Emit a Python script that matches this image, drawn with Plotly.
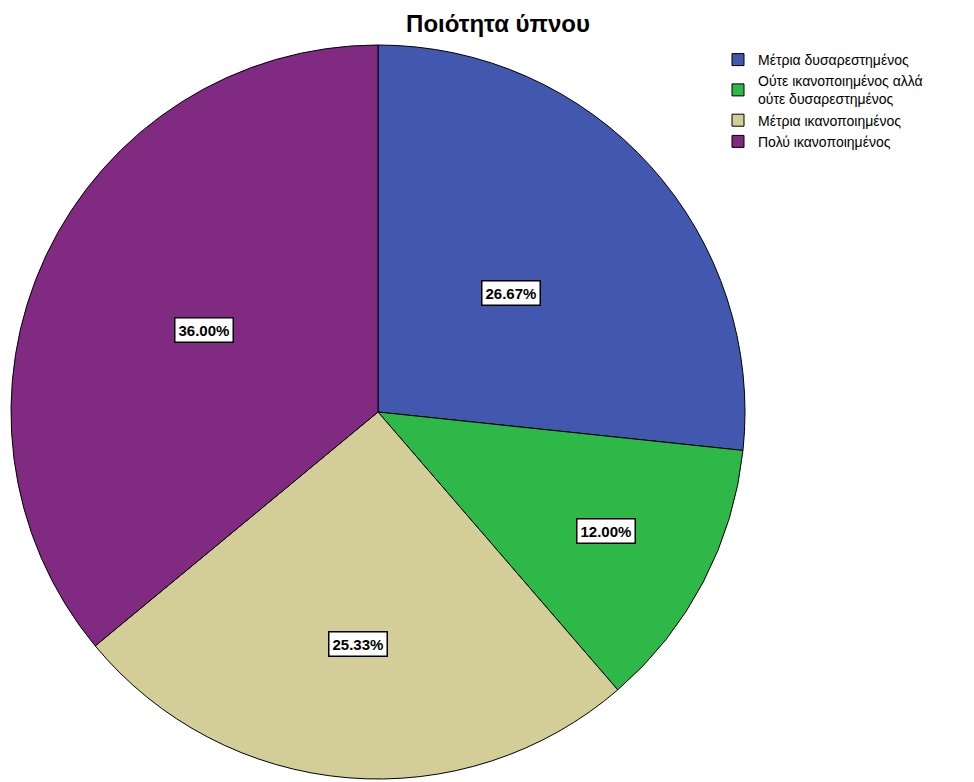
import math
import plotly.graph_objects as go

# Sleep quality survey: share of respondents per answer
categories = [
    "Μέτρια δυσαρεστημένος",
    "Ούτε ικανοποιημένος αλλά<br>ούτε δυσαρεστημένος",
    "Μέτρια ικανοποιημένος",
    "Πολύ ικανοποιημένος",
]
percentages = [26.67, 12.00, 25.33, 36.00]
title_text = "Ποιότητα ύπνου"

colors = ["#4158AE", "#2EB848", "#D3CE97", "#812A81"]
# radial placement of each value label, as a fraction of the radius
label_radius = [0.486, 0.70, 0.635, 0.524]

W, H = 974, 782
dom_x = [11 / W, 745 / W]
dom_y = [1 - 779 / H, 1 - 45 / H]

fig = go.Figure(
    go.Pie(
        labels=categories,
        values=percentages,
        sort=False,
        direction="clockwise",
        rotation=0,
        marker=dict(colors=colors, line=dict(color="#000000", width=1)),
        textinfo="none",
        hoverinfo="label+percent",
        domain=dict(x=dom_x, y=dom_y),
    )
)

# value labels in white boxes at the middle angle of each slice
cx = (dom_x[0] + dom_x[1]) / 2 * W
cy = (1 - (dom_y[0] + dom_y[1]) / 2) * H
r = min((dom_x[1] - dom_x[0]) * W, (dom_y[1] - dom_y[0]) * H) / 2
total = sum(percentages)
start = 0.0
for val, frac in zip(percentages, label_radius):
    mid = (start + val / 2) / total * 2 * math.pi
    start += val
    px = cx + r * frac * math.sin(mid)
    py = cy - r * frac * math.cos(mid)
    fig.add_annotation(
        x=px / W, y=1 - py / H, xref="paper", yref="paper",
        xanchor="center", yanchor="middle",
        text=f"<b>{val:.2f}%</b>", showarrow=False,
        font=dict(family="Liberation Sans, Arial", size=15, color="#000000"),
        bgcolor="#FFFFFF", bordercolor="#000000", borderwidth=1.5, borderpad=3,
    )

fig.update_layout(
    width=W, height=H,
    margin=dict(l=0, r=0, t=0, b=0),
    paper_bgcolor="#FFFFFF",
    plot_bgcolor="#FFFFFF",
    title=dict(
        text=f"<b>{title_text}</b>",
        x=498 / W, xanchor="center", y=1 - 24 / H, yanchor="middle",
        font=dict(family="Liberation Sans, Arial", size=24, color="#000000"),
    ),
    legend=dict(
        x=718 / W, xanchor="left", y=1 - 44 / H, yanchor="top",
        font=dict(family="Liberation Sans, Arial", size=14, color="#000000"),
        bgcolor="rgba(0,0,0,0)", itemwidth=30, tracegroupgap=0,
    ),
)

fig.write_html("out.html")
